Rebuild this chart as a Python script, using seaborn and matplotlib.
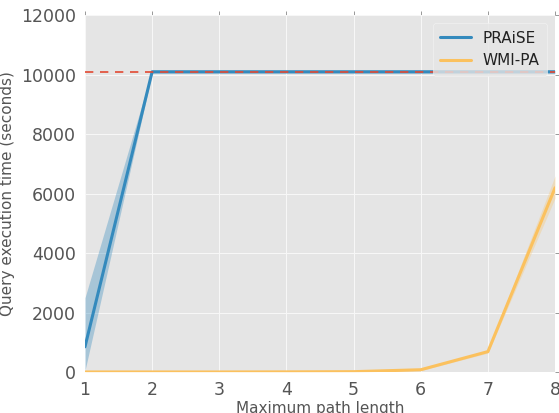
import matplotlib
matplotlib.use("Agg")
import matplotlib.pyplot as plt
import seaborn as sns
import pandas as pd
import numpy as np

path_len = [1, 2, 3, 4, 5, 6, 7, 8]
praise_mean = [850, 10100, 10100, 10100, 10100, 10100, 10100, 10100]
praise_lo = [50, 10050, 10050, 10050, 10050, 10050, 10050, 10050]
praise_hi = [2500, 10150, 10150, 10150, 10150, 10150, 10150, 10150]
wmipa_mean = [5, 5, 5, 8, 15, 80, 690, 6200]
wmipa_lo = [0, 0, 0, 0, 5, 50, 640, 5850]
wmipa_hi = [15, 15, 15, 20, 30, 110, 740, 6600]
timeout = 10100
series_names = ["PRAiSE", "WMI-PA"]
colors = ["#348ABD", "#FBC15E"]

sns.set_theme()
plt.style.use("ggplot")
plt.rcParams["font.family"] = ["DejaVu Sans"]

fig, ax = plt.subplots(figsize=(5.59, 4.13), dpi=100)
fig.subplots_adjust(left=0.152, right=0.993, top=0.963, bottom=0.099)

df = pd.DataFrame({
    "x": path_len * 2,
    "y": praise_mean + wmipa_mean,
    "series": [series_names[0]] * 8 + [series_names[1]] * 8,
})
sns.lineplot(data=df, x="x", y="y", hue="series", palette=colors, lw=2.2, ax=ax)
ax.fill_between(path_len, praise_lo, praise_hi, color=colors[0], alpha=0.35, lw=0)
ax.fill_between(path_len, wmipa_lo, wmipa_hi, color=colors[1], alpha=0.3, lw=0)
ax.axhline(timeout, color="#E24A33", ls="--", lw=1.2, dashes=(5, 4), zorder=5)

ax.set_xlim(1, 8)
ax.set_ylim(0, 12000)
ax.set_xticks(path_len)
ax.set_xlabel("Maximum path length", fontsize=11, color="#555555", labelpad=1)
ax.set_ylabel("Query execution time (seconds)", fontsize=11, color="#555555", labelpad=4)
ax.tick_params(axis="both", labelsize=12.5, labelcolor="#555555", color="#888888",
               direction="out", top=True, right=True, length=3, width=0.6)
ax.grid(True, color="#f7f7f7", lw=0.8)
ax.set_facecolor("#E5E5E5")
for s in ax.spines.values():
    s.set_visible(False)

leg = ax.legend(loc="upper right", fontsize=11, frameon=True, handlelength=2.0,
                borderaxespad=0.5, borderpad=0.5)
leg.get_frame().set_facecolor("#E5E5E5")
leg.get_frame().set_edgecolor("#f4f4f4")
for t in leg.get_texts():
    t.set_color("#222222")

fig.savefig("out.png", dpi=100)
